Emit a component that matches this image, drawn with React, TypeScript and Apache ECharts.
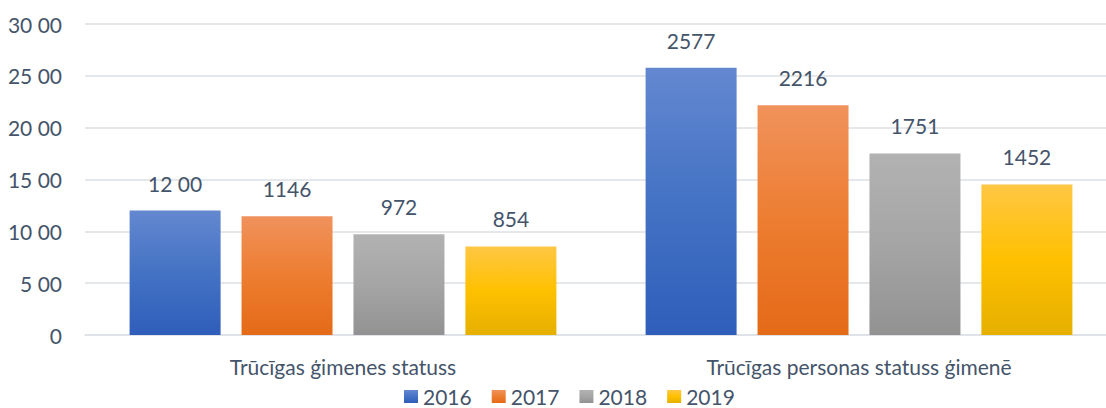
import React, { useEffect, useRef } from "react";
import * as echarts from "echarts";

const categories = ["Trūcīgas ģimenes statuss", "Trūcīgas personas statuss ģimenē"];
const years = ["2016", "2017", "2018", "2019"];
const values2016 = [1200, 2577];
const values2017 = [1146, 2216];
const values2018 = [972, 1751];
const values2019 = [854, 1452];
const labels2016 = ["12 00", "2577"];
const labels2017 = ["1146", "2216"];
const labels2018 = ["972", "1751"];
const labels2019 = ["854", "1452"];
const yTicks = [0, 500, 1000, 1500, 2000, 2500, 3000];

const gradients: [string, string, string][] = [
  ["#6388D0", "#4472C4", "#2E5EBA"],
  ["#F0925C", "#ED7D31", "#E46A17"],
  ["#B2B2B2", "#A5A5A5", "#929292"],
  ["#FFC744", "#FFC000", "#E5B000"],
];

const FONT = "Lato";
const TEXT = "#44546A";
const FS = 21;

export default function App() {
  const ref = useRef<HTMLDivElement>(null);
  useEffect(() => {
    const chart = echarts.init(ref.current!, undefined, { renderer: "svg" });
    const vals = [values2016, values2017, values2018, values2019];
    const labs = [labels2016, labels2017, labels2018, labels2019];
    chart.setOption({
      animation: false,
      textStyle: { fontFamily: FONT },
      grid: { left: 85, top: 24, width: 1032, height: 311, containLabel: false },
      legend: {
        data: years,
        left: 404,
        top: 386,
        padding: 0,
        itemWidth: 14,
        itemHeight: 13,
        itemGap: 20,
        icon: "rect",
        textStyle: { fontFamily: FONT, fontSize: FS, color: TEXT },
      },
      xAxis: {
        type: "category",
        data: categories,
        axisLine: { show: true, lineStyle: { color: "#DDE0E5", width: 1.5 } },
        axisTick: { show: false },
        axisLabel: { fontFamily: FONT, fontSize: FS, color: TEXT, margin: 21 },
      },
      yAxis: {
        type: "value",
        min: yTicks[0],
        max: yTicks[yTicks.length - 1],
        interval: 500,
        axisLine: { show: false },
        axisTick: { show: false },
        splitLine: { lineStyle: { color: "#DDE0E5", width: 1.5 } },
        axisLabel: {
          fontFamily: FONT,
          fontSize: FS,
          color: TEXT,
          margin: 23,
          formatter: (v: number) => (v === 0 ? "0" : `${Math.floor(v / 100)} 00`),
        },
      },
      series: years.map((y, i) => ({
        name: y,
        type: "bar",
        data: vals[i],
        barWidth: 91,
        barGap: "23%",
        itemStyle: {
          color: new echarts.graphic.LinearGradient(0, 0, 0, 1, [
            { offset: 0, color: gradients[i][0] },
            { offset: 0.5, color: gradients[i][1] },
            { offset: 1, color: gradients[i][2] },
          ]),
        },
        label: {
          show: true,
          position: "top",
          distance: 17,
          fontFamily: FONT,
          fontSize: FS,
          color: TEXT,
          formatter: (p: any) => labs[i][p.dataIndex],
        },
      })),
    });
    return () => chart.dispose();
  }, []);
  return (
    <div
      ref={ref}
      style={{ position: "fixed", left: 0, top: 0, width: 1130, height: 408, background: "#fff" }}
    />
  );
}
